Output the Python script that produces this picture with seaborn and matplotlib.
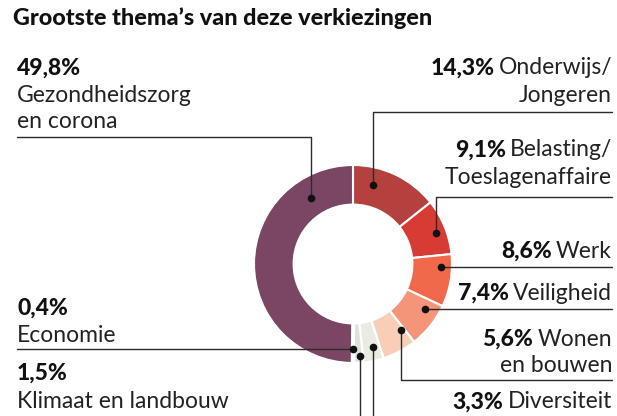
import numpy as np
import matplotlib
matplotlib.use("Agg")
import matplotlib.pyplot as plt
import seaborn as sns

# ------------------------------------------------------------------
# data (clockwise from 12 o'clock)
# ------------------------------------------------------------------
themes = ["Onderwijs/Jongeren", "Belasting/Toeslagenaffaire", "Werk", "Veiligheid",
          "Wonen en bouwen", "Diversiteit", "Klimaat en landbouw", "Economie",
          "Gezondheidszorg en corona"]
shares = [14.3, 9.1, 8.6, 7.4, 5.6, 3.3, 1.5, 0.4, 49.8]
pct_labels = ["14,3%", "9,1%", "8,6%", "7,4%", "5,6%", "3,3%", "1,5%", "0,4%", "49,8%"]
colors = ["#b5413f", "#d83a34", "#f0694b", "#f4957a", "#f8cfb6",
          "#ebebe3", "#dfe2dc", "#d2d5cf", "#7b4663"]

sns.set_theme(style="white")
plt.rcParams["font.family"] = ["Lato", "DejaVu Sans"]

W, H = 617, 416
fig = plt.figure(figsize=(W / 100, H / 100), dpi=100)
ax = fig.add_axes([0, 0, 1, 1])

# donut, y axis runs downwards so pie goes counterclock from -90
CX, CY, R = 353, 264, 99
wedges, _ = ax.pie(shares, colors=colors, startangle=-90, counterclock=True,
                   center=(CX, CY), radius=R,
                   wedgeprops=dict(width=R * 0.4, edgecolor="white", linewidth=1.5))
ax.set_xlim(0, W)
ax.set_ylim(H, 0)
ax.set_aspect("auto")
ax.axis("off")

LINE = "#2b2b2b"
FS = 16.5
XR, XL = 612, 17

# where on each wedge the leader dot sits (fraction of the wedge, radius)
dot_frac = [0.27, 0.55, 0.25, 0.25, 0.1, 0.38, 0.37, 0.5, 0.82]
dot_r = [0.82, 0.89, 0.89, 0.86, 0.83, 0.86, 0.93, 0.86, 0.79]

dots = []
for w, f, r in zip(wedges, dot_frac, dot_r):
    th = np.deg2rad(w.theta1 + f * (w.theta2 - w.theta1))
    dots.append((CX + r * R * np.cos(th), CY + r * R * np.sin(th)))


def leader(i, kind, y=None):
    x0, y0 = dots[i]
    if kind == "up_right":
        ax.plot([x0, x0, XR], [y0, y, y], color=LINE, lw=1.0)
    elif kind == "up_left":
        ax.plot([x0, x0, XL], [y0, y, y], color=LINE, lw=1.0)
    elif kind == "right":
        ax.plot([x0, XR], [y0, y0], color=LINE, lw=1.0)
    elif kind == "left":
        ax.plot([x0, XL], [y0, y0], color=LINE, lw=1.0)
    elif kind == "down_right":
        ax.plot([x0, x0, XR], [y0, y, y], color=LINE, lw=1.0)
    elif kind == "down":
        ax.plot([x0, x0], [y0, H], color=LINE, lw=1.0)
    ax.plot(x0, y0, "o", color="#111111", ms=4.5, zorder=5)


leader(0, "up_right", 112)
leader(1, "up_right", 197)
leader(2, "right")
leader(3, "right")
leader(4, "down_right", 380)
leader(5, "down")
leader(6, "down")
leader(7, "left")
leader(8, "up_left", 137)

ax.text(13, 18, "Grootste thema\u2019s van deze verkiezingen", fontsize=16.8,
        fontweight="black", color="#111111", va="center", ha="left")

# left labels: bold percentage on its own line
ax.text(XL, 68, pct_labels[8], fontsize=FS, fontweight="black", va="center", color="#111111")
ax.text(XL, 95, "Gezondheidszorg", fontsize=FS, va="center", color="#222222")
ax.text(XL, 122, "en corona", fontsize=FS, va="center", color="#222222")
ax.text(XL, 308, pct_labels[7], fontsize=FS, fontweight="black", va="center", color="#111111")
ax.text(XL, 335, "Economie", fontsize=FS, va="center", color="#222222")
ax.text(XL, 373, pct_labels[6], fontsize=FS, fontweight="black", va="center", color="#111111")
ax.text(XL, 401, "Klimaat en landbouw", fontsize=FS, va="center", color="#222222")

# right labels: "pct name" right aligned, pct bold
right_rows = [(0, "Onderwijs/", 68, "Jongeren"),
              (1, "Belasting/", 150, "Toeslagenaffaire"),
              (2, "Werk", 251, None),
              (3, "Veiligheid", 293, None),
              (4, "Wonen", 339, "en bouwen"),
              (5, "Diversiteit", 402, None)]
fig.canvas.draw()
rend = fig.canvas.get_renderer()
inv = ax.transData.inverted()
for i, name, y, second in right_rows:
    t = ax.text(XR, y, name, fontsize=FS, va="center", ha="right", color="#222222")
    bb = t.get_window_extent(renderer=rend)
    xleft = inv.transform((bb.x0, bb.y0))[0]
    ax.text(xleft - 4, y, pct_labels[i], fontsize=FS, fontweight="black",
            va="center", ha="right", color="#111111")
    if second:
        ax.text(XR, y + 27, second, fontsize=FS, va="center", ha="right", color="#222222")

fig.savefig("out.png", dpi=100, facecolor="white")
